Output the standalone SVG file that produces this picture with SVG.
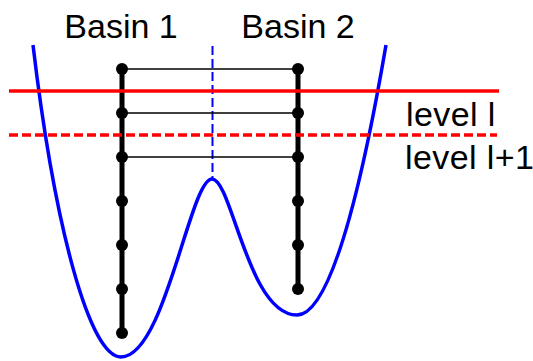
<svg xmlns="http://www.w3.org/2000/svg" width="533" height="361" viewBox="0 0 533 361">
<style>
  .lbl { font-family: "Liberation Sans", Arial, sans-serif; font-size: 34px; fill: #000; }
  .chain { stroke: #000; stroke-width: 5; fill: none; }
  .link { stroke: #000; stroke-width: 1.5; fill: none; }
  .node { fill: #000; }
  .curve { stroke: #0000ff; stroke-width: 3.5; fill: none; }
</style>
<rect width="533" height="361" fill="#fff"/>
<g id="landscape">
  <path class="curve" d="M33,45 C55,230 90,357 121,357 C165,357 190,179 212,179 C232,179 248,315 297,315 C335,315 368,150 386,45"/>
  <line x1="212.5" y1="46" x2="212.5" y2="178" stroke="#0000ff" stroke-width="2" stroke-dasharray="9,4"/>
</g>
<g id="connectors">
  <line class="link" x1="122" y1="69" x2="298" y2="69"/>
  <line class="link" x1="122" y1="113" x2="298" y2="113"/>
  <line class="link" x1="122" y1="157" x2="298" y2="157"/>
</g>
<g id="basin1">
  <line class="chain" x1="122" y1="69" x2="122" y2="333"/>
  <circle class="node" cx="122" cy="69" r="6"/>
  <circle class="node" cx="122" cy="113" r="6"/>
  <circle class="node" cx="122" cy="157" r="6"/>
  <circle class="node" cx="122" cy="201" r="6"/>
  <circle class="node" cx="122" cy="245" r="6"/>
  <circle class="node" cx="122" cy="289" r="6"/>
  <circle class="node" cx="122" cy="333" r="6"/>
  <text class="lbl" x="121" y="38" text-anchor="middle">Basin 1</text>
</g>
<g id="basin2">
  <line class="chain" x1="298" y1="69" x2="298" y2="289"/>
  <circle class="node" cx="298" cy="69" r="6"/>
  <circle class="node" cx="298" cy="113" r="6"/>
  <circle class="node" cx="298" cy="157" r="6"/>
  <circle class="node" cx="298" cy="201" r="6"/>
  <circle class="node" cx="298" cy="245" r="6"/>
  <circle class="node" cx="298" cy="289" r="6"/>
  <text class="lbl" x="298" y="38" text-anchor="middle">Basin 2</text>
</g>
<g id="levels">
  <line x1="9" y1="91" x2="499" y2="91" stroke="#ff0000" stroke-width="3.3"/>
  <line x1="9" y1="135" x2="497" y2="135" stroke="#ff0000" stroke-width="3.3" stroke-dasharray="9,4"/>
  <text class="lbl" x="406" y="126" letter-spacing="0.4">level l</text>
  <text class="lbl" x="405" y="169" letter-spacing="0.4">level l+1</text>
</g>
</svg>
